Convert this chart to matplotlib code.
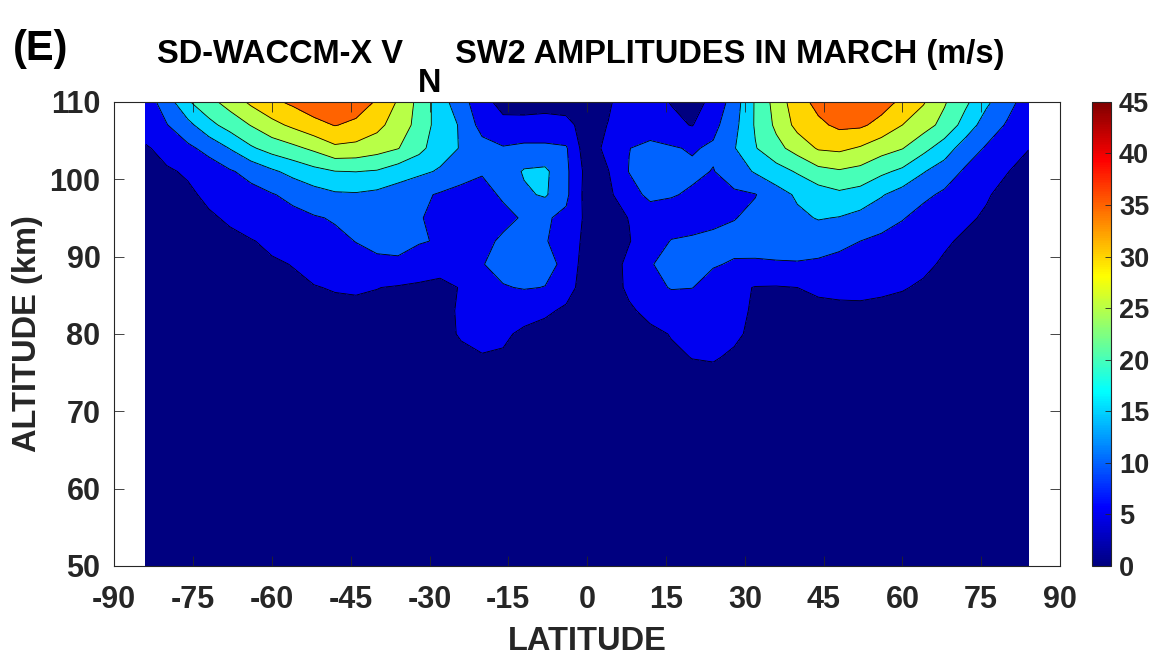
import numpy as np
import matplotlib
matplotlib.use("Agg")
import matplotlib.pyplot as plt
from matplotlib.colors import ListedColormap, Normalize
from matplotlib.cm import ScalarMappable

plt.rcParams['font.family'] = ['Liberation Sans', 'DejaVu Sans']
plt.rcParams['font.weight'] = 'bold'
plt.rcParams['axes.unicode_minus'] = False

# grid: latitude every 4 deg, altitude levels in km
lat = np.arange(-84, 85, 4)
alt = [50, 74, 77, 80, 83, 86, 89, 92, 95, 98, 101, 104, 107, 110]

# SW2 amplitude (m/s) on each altitude level, lat -84 .. 84
amp_50 = [0.3, 0.3, 0.3, 0.4, 0.4, 0.4, 0.4, 0.5, 0.5, 0.5, 0.5, 0.5, 0.6, 0.6, 0.6,
          0.6, 0.6, 0.6, 0.5, 0.5, 0.5, 0.4, 0.4, 0.5, 0.5, 0.6, 0.6, 0.6, 0.6, 0.6,
          0.5, 0.5, 0.5, 0.5, 0.5, 0.4, 0.4, 0.4, 0.4, 0.3, 0.3, 0.3, 0.3]
amp_74 = [0.6, 0.7, 0.8, 0.9, 1.0, 1.1, 1.2, 1.4, 1.6, 1.8, 2.0, 2.2, 2.4, 2.6, 2.9,
          3.3, 3.6, 3.4, 2.8, 2.2, 1.8, 1.5, 1.6, 2.0, 2.6, 3.3, 3.8, 3.9, 3.4, 2.8,
          2.4, 2.2, 2.1, 2.1, 2.0, 1.9, 1.8, 1.7, 1.5, 1.3, 1.1, 0.9, 0.7]
amp_77 = [0.8, 1.0, 1.1, 1.3, 1.4, 1.6, 1.8, 2.0, 2.2, 2.4, 2.6, 2.8, 3.0, 3.2, 3.6,
          4.3, 4.8, 4.6, 3.6, 2.8, 2.2, 1.8, 1.9, 2.4, 3.2, 4.3, 5.1, 5.3, 4.5, 3.5,
          3.0, 2.8, 2.7, 2.7, 2.6, 2.5, 2.4, 2.2, 2.0, 1.8, 1.5, 1.2, 1.0]
amp_80 = [1.0, 1.2, 1.4, 1.6, 1.8, 2.0, 2.3, 2.5, 2.8, 3.0, 3.2, 3.3, 3.3, 3.5, 4.0,
          5.3, 6.0, 5.6, 4.3, 3.3, 2.6, 2.0, 2.2, 3.0, 4.0, 5.2, 6.0, 6.2, 5.6, 4.2,
          3.7, 3.5, 3.5, 3.5, 3.4, 3.3, 3.1, 2.8, 2.5, 2.2, 1.9, 1.5, 1.2]
amp_83 = [1.2, 1.5, 1.8, 2.0, 2.3, 2.6, 3.0, 3.3, 3.6, 3.9, 4.0, 3.9, 3.8, 3.8, 4.3,
          5.3, 6.2, 6.8, 6.5, 5.8, 4.2, 2.2, 2.5, 4.3, 6.3, 7.0, 7.0, 6.5, 5.8, 4.6,
          4.2, 4.2, 4.3, 4.4, 4.4, 4.3, 4.0, 3.6, 3.2, 2.7, 2.2, 1.8, 1.5]
amp_86 = [1.5, 1.8, 2.2, 2.5, 3.0, 3.5, 4.0, 4.4, 4.8, 5.3, 5.5, 5.1, 4.6, 4.3, 4.0,
          5.2, 7.5, 9.7, 10.3, 9.9, 7.0, 2.5, 2.5, 6.0, 8.5, 10.3, 10.1, 8.0, 6.0, 4.8,
          4.7, 5.0, 5.5, 5.7, 5.8, 5.5, 5.2, 4.6, 3.8, 3.2, 2.6, 2.2, 1.8]
amp_89 = [1.8, 2.0, 2.5, 3.0, 3.5, 4.0, 4.6, 5.1, 6.5, 7.5, 8.5, 9.5, 9.6, 7.5, 6.5,
          7.5, 9.8, 11.5, 12.0, 11.3, 9.0, 2.0, 3.0, 6.0, 9.8, 11.0, 11.2, 10.4, 9.5, 9.3,
          9.5, 9.6, 9.3, 8.8, 8.2, 7.3, 6.5, 5.6, 4.6, 3.6, 3.0, 2.5, 2.0]
amp_92 = [2.0, 2.5, 3.0, 3.5, 4.2, 4.8, 5.7, 6.8, 7.8, 9.0, 10.1, 10.6, 10.7, 10.4, 9.6,
          8.0, 9.0, 10.6, 11.5, 10.3, 8.0, 3.5, 3.5, 4.8, 7.5, 10.2, 10.5, 10.8, 11.5, 12.0,
          12.3, 12.5, 12.0, 11.0, 10.0, 9.0, 7.8, 6.5, 5.4, 4.5, 3.5, 2.8, 2.2]
amp_95 = [2.5, 3.0, 3.5, 4.5, 5.5, 6.8, 7.8, 8.7, 9.6, 10.4, 11.0, 11.2, 10.8, 10.2, 9.2,
          8.2, 8.0, 9.0, 10.4, 10.5, 9.0, 3.8, 3.8, 5.1, 6.5, 7.5, 8.5, 9.2, 9.8, 11.2,
          12.5, 14.0, 15.3, 14.8, 13.5, 12.0, 10.3, 8.3, 6.5, 5.5, 4.6, 3.5, 2.8]
amp_98 = [3.0, 3.5, 4.3, 5.8, 7.2, 8.5, 9.7, 11.2, 13.0, 14.3, 14.5, 13.8, 12.5, 11.0, 9.5,
          8.5, 8.8, 10.5, 14.2, 15.6, 11.0, 3.0, 4.2, 7.5, 11.5, 10.4, 9.3, 8.8, 9.2, 9.8,
          13.0, 15.7, 17.5, 19.0, 18.0, 15.4, 13.0, 11.0, 9.2, 6.8, 5.3, 4.0, 3.0]
amp_101 = [3.5, 4.5, 5.5, 7.5, 9.5, 11.5, 14.2, 16.5, 18.5, 19.9, 20.1, 19.6, 17.5, 16.0, 14.5,
           12.0, 10.3, 12.0, 15.5, 16.0, 11.0, 3.3, 4.8, 10.2, 12.5, 12.5, 11.0, 9.8, 12.5, 15.5,
           18.0, 20.5, 23.5, 24.5, 23.5, 21.0, 19.0, 15.3, 12.5, 9.3, 7.0, 5.1, 3.8]
amp_104 = [4.5, 6.5, 9.0, 11.5, 15.2, 19.3, 22.0, 23.8, 26.0, 29.0, 28.5, 27.0, 25.2, 21.5, 17.0,
           14.7, 12.0, 10.3, 11.0, 11.0, 10.5, 2.0, 6.6, 9.9, 11.5, 10.5, 9.5, 10.8, 14.7, 19.7,
           23.5, 27.0, 30.5, 31.0, 29.5, 27.0, 25.2, 21.5, 17.5, 12.5, 9.5, 7.0, 5.1]
amp_107 = [7.5, 9.8, 13.5, 18.5, 22.0, 25.2, 28.5, 31.0, 33.5, 35.2, 34.0, 31.5, 27.5, 23.5, 17.5,
           14.5, 8.0, 7.0, 6.5, 6.5, 6.0, 3.5, 5.1, 7.0, 7.0, 6.0, 4.8, 8.5, 13.5, 20.5,
           26.0, 31.5, 34.0, 36.0, 35.8, 33.5, 30.0, 27.0, 23.5, 18.0, 12.5, 9.5, 7.0]
amp_110 = [7.5, 12.5, 19.5, 23.5, 27.0, 31.0, 34.0, 36.0, 38.0, 38.5, 37.5, 34.5, 29.5, 23.5, 17.5,
           11.5, 7.5, 2.5, 3.0, 3.5, 3.5, 2.5, 4.5, 7.0, 6.5, 4.8, 3.5, 6.0, 12.5, 20.5,
           27.0, 33.0, 36.5, 38.5, 39.0, 37.0, 34.0, 30.5, 25.5, 21.0, 16.0, 11.5, 8.0]

levels = [0, 5, 10, 15, 20, 25, 30, 35, 40, 45]
xticks = [-90, -75, -60, -45, -30, -15, 0, 15, 30, 45, 60, 75, 90]
yticks = [50, 60, 70, 80, 90, 100, 110]

amp = np.array([amp_50, amp_74, amp_77, amp_80, amp_83, amp_86, amp_89, amp_92,
                amp_95, amp_98, amp_101, amp_104, amp_107, amp_110])


def jet(x):
    x = np.asarray(x, dtype=float)
    r = np.clip(1.5 - np.abs(4 * x - 3), 0, 1)
    g = np.clip(1.5 - np.abs(4 * x - 2), 0, 1)
    b = np.clip(1.5 - np.abs(4 * x - 1), 0, 1)
    return np.stack([r, g, b], axis=-1)


vmax = levels[-1]
band_colors = [tuple(jet(lv / vmax)) for lv in levels[:-1]]
cmap = ListedColormap(jet(np.linspace(0, 1, 256)))

ink = '#262626'
fig = plt.figure(figsize=(11.61, 6.58), dpi=100)
ax = fig.add_axes([0.09845, 0.13982, 0.81456, 0.70547])

ax.contourf(lat, alt, amp, levels=levels, colors=band_colors)
ax.contour(lat, alt, amp, levels=levels[1:-1], colors='k', linewidths=0.6)

ax.set_xlim(-90, 90)
ax.set_ylim(50, 110)
ax.set_xticks(xticks)
ax.set_yticks(yticks)
ax.tick_params(direction='in', length=7, width=0.6, top=True, right=True,
               labelsize=22, colors=ink)
ax.tick_params(axis='x', pad=13.5)
ax.tick_params(axis='y', pad=10)
for s in ax.spines.values():
    s.set_linewidth(0.8)
    s.set_color(ink)

fig.text(0.5056, 1 - 650 / 658, 'LATITUDE', ha='center', va='baseline',
         fontsize=23.5, color=ink)
fig.text(27.5 / 1161, 1 - 334 / 658, 'ALTITUDE (km)', ha='center', va='center',
         rotation=90, fontsize=23.5, color=ink)

# title with the subscript N dropped below the baseline
t1 = fig.text(157 / 1161, 1 - 63.3 / 658, 'SD-WACCM-X V', fontsize=23.5,
              color='k', va='baseline', ha='left')
t2 = ax.annotate('N', xy=(1, 0), xycoords=t1, xytext=(11, -20.4),
                 textcoords='offset points', fontsize=23.5, color='k',
                 va='bottom', ha='left', annotation_clip=False)
ax.annotate(' SW2 AMPLITUDES IN MARCH (m/s)', xy=(1, 0), xycoords=t2,
            xytext=(3.0, 20.4), textcoords='offset points', fontsize=23.5,
            color='k', va='bottom', ha='left', annotation_clip=False)

fig.text(13 / 1161, 1 - 60 / 658, '(E)', fontsize=30, color='k', va='baseline')

cax = fig.add_axes([0.94083, 0.13982, 0.01585, 0.70547])
sm = ScalarMappable(norm=Normalize(0, vmax), cmap=cmap)
cb = fig.colorbar(sm, cax=cax, ticks=levels)
cb.outline.set_linewidth(0.8)
cb.outline.set_edgecolor(ink)
cax.tick_params(direction='in', length=4, width=0.6, labelsize=19.5,
                colors=ink, pad=6)

fig.savefig('out.png', dpi=100)
